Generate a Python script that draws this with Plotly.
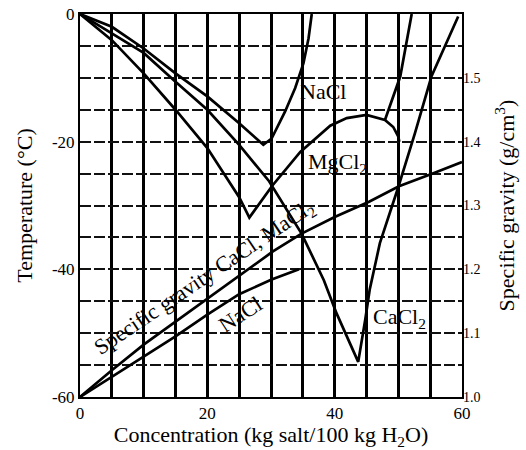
import plotly.graph_objects as go

# Freezing-point curves: concentration (kg salt / 100 kg H2O) vs temperature (°C)
conc_nacl = [0, 5, 10, 15, 20, 25, 28.8, 30.1, 32.2, 33.8, 35.1, 35.9, 36.4]
temp_nacl = [0, -2.0, -5.4, -9.3, -12.9, -17.1, -20.5, -19.5, -15.3, -11.6, -7.7, -3.8, 0]

conc_mgcl2 = [0, 5, 10, 15, 20, 25, 26.6, 30.2, 34.6, 39.3, 41.9, 45.0, 47.9, 49.2, 50.0, 50.15]
temp_mgcl2 = [0, -4.1, -9.3, -15.0, -21.0, -28.7, -31.9, -26.9, -21.6, -17.5, -16.3, -15.8, -16.6, -17.7, -19.2, -20.0]

conc_mgcl2_hydrate = [47.9, 50.3, 52.1]
temp_mgcl2_hydrate = [-16.6, -9.8, 0]

conc_cacl2 = [0, 5, 10, 15, 20, 25, 29.7, 34.8, 38.3, 40.3, 43.7, 44.8, 45.5, 47.1, 50.0, 52.6, 55.2, 59.4]
temp_cacl2 = [0, -3.0, -6.1, -10.6, -15.0, -20.5, -26.2, -34.4, -41.7, -46.9, -54.5,
              -47.9, -43.2, -35.9, -27.1, -18.7, -9.8, -0.4]

# Specific gravity of the brines (right axis)
sg_conc_ca_mg = [0, 5, 10, 15, 20, 25, 30.3, 34.8, 40, 45.4, 50.1, 55.4, 60]
sg_ca_mg = [1.0, 1.042, 1.082, 1.118, 1.155, 1.190, 1.228, 1.256, 1.282, 1.306, 1.330, 1.350, 1.368]

sg_conc_nacl = [0, 5, 10, 15, 20, 25, 30.1, 34.4]
sg_nacl = [1.0, 1.032, 1.063, 1.095, 1.129, 1.161, 1.184, 1.200]

# Tick labels
x_ticks = [0, 20, 40, 60]
x_tick_text = ["0", "20", "40", "60"]
t_ticks = [0, -20, -40, -60]
t_tick_text = ["0", "-20", "-40", "-60"]
sg_ticks = [1.0, 1.1, 1.2, 1.3, 1.4, 1.5]
sg_tick_text = ["1.0", "1.1", "1.2", "1.3", "1.4", "1.5"]

FONT = "Liberation Serif"
curve = dict(color="black", width=2.7)

fig = go.Figure()
fig.add_trace(go.Scatter(x=conc_nacl, y=temp_nacl, mode="lines", line=curve, name="NaCl"))
fig.add_trace(go.Scatter(x=conc_mgcl2, y=temp_mgcl2, mode="lines", line=curve, name="MgCl2"))
fig.add_trace(go.Scatter(x=conc_mgcl2_hydrate, y=temp_mgcl2_hydrate, mode="lines", line=curve,
                         name="MgCl2 hydrate"))
fig.add_trace(go.Scatter(x=conc_cacl2, y=temp_cacl2, mode="lines", line=curve, name="CaCl2"))
fig.add_trace(go.Scatter(x=sg_conc_ca_mg, y=sg_ca_mg, mode="lines", line=curve, yaxis="y2",
                         name="SG CaCl2, MgCl2"))
fig.add_trace(go.Scatter(x=sg_conc_nacl, y=sg_nacl, mode="lines", line=curve, yaxis="y2",
                         name="SG NaCl"))

label_font = dict(family=FONT, size=22, color="black")
annotations = [
    dict(x=34.2, y=-12.2, text="NaCl", xanchor="left", yanchor="middle"),
    dict(x=35.5, y=-23.3, text="MgCl<sub>2</sub>", xanchor="left", yanchor="middle"),
    dict(x=45.7, y=-47.6, text="CaCl<sub>2</sub>", xanchor="left", yanchor="middle"),
    dict(x=19.6, y=-41.4, text="Specific gravity CaCl, MaCl<sub>2</sub>", textangle=-34,
         xanchor="center", yanchor="middle"),
    dict(x=25.1, y=-47.0, text="NaCl", textangle=-33, xanchor="center", yanchor="middle"),
]
for a in annotations:
    a.update(xref="x", yref="y", showarrow=False, font=label_font)

fig.update_layout(
    width=526, height=450,
    margin=dict(l=80, r=64, t=14, b=53, autoexpand=False),
    paper_bgcolor="white", plot_bgcolor="white",
    showlegend=False,
    font=dict(family=FONT, color="black"),
    annotations=annotations,
    xaxis=dict(
        range=[0, 60], tickvals=x_ticks, ticktext=x_tick_text, ticks="",
        tickfont=dict(size=17),
        showgrid=True, gridcolor="black", gridwidth=3,
        minor=dict(tick0=0, dtick=5, showgrid=True, gridcolor="black", gridwidth=3),
        showline=True, linecolor="black", linewidth=2, mirror=True,
        zeroline=False, automargin=False,
        title=dict(text="Concentration (kg salt/100 kg H<sub>2</sub>O)",
                   font=dict(size=22), standoff=3),
    ),
    yaxis=dict(
        range=[-60, 0], tickvals=t_ticks, ticktext=t_tick_text, ticks="",
        tickfont=dict(size=17),
        showgrid=True, gridcolor="#111", gridwidth=1.5, griddash="11px,3px",
        minor=dict(tick0=0, dtick=5, showgrid=True, gridcolor="#111", gridwidth=1.5,
                   griddash="11px,3px"),
        showline=True, linecolor="black", linewidth=2, mirror=True,
        zeroline=False, automargin=False,
        title=dict(text="Temperature (°C)", font=dict(size=22), standoff=13),
    ),
    yaxis2=dict(
        range=[1.0, 1.6], overlaying="y", side="right",
        tickvals=sg_ticks, ticktext=sg_tick_text, ticks="",
        tickfont=dict(size=14),
        showgrid=False, zeroline=False, showline=False, automargin=False,
        title=dict(text="Specific gravity (g/cm<sup>3</sup>)", font=dict(size=22), standoff=19),
    ),
)

fig.write_html("out.html")
